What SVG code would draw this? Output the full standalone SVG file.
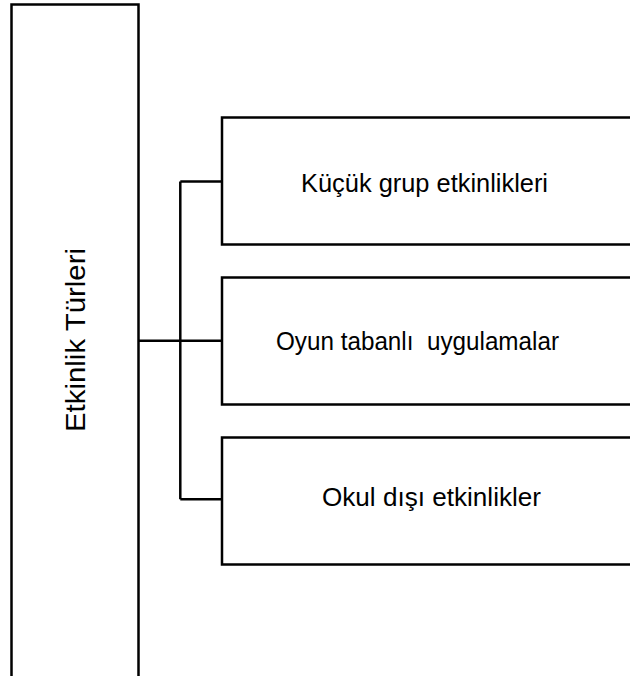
<svg xmlns="http://www.w3.org/2000/svg" width="630" height="676" viewBox="0 0 630 676">
<style>
.box{fill:#fff;stroke:#000;stroke-width:2.5}
.ln{fill:none;stroke:#000;stroke-width:2.5}
.t{font-family:"Liberation Sans",Arial,sans-serif;font-size:25px;fill:#000}
.v{font-size:28px}
</style>
<rect width="630" height="676" fill="#fff"/>
<g id="connectors">
<path class="ln" d="M138.5 340.7 H221.5"/>
<path class="ln" d="M180.3 181.5 V499.3"/>
<path class="ln" d="M180.3 181.5 H221.5"/>
<path class="ln" d="M180.3 499.3 H221.5"/>
</g>
<g id="root">
<path class="box" d="M11.5 690 V4.5 H138.5 V690"/>
<text class="t v" transform="translate(85,340) rotate(-90)" text-anchor="middle" textLength="184" lengthAdjust="spacingAndGlyphs">Etkinlik Türleri</text>
</g>
<g id="n1">
<path class="box" d="M640 117.5 H222 V244.5 H640"/>
<text class="t" x="301" y="192" textLength="247" lengthAdjust="spacingAndGlyphs">Küçük grup etkinlikleri</text>
</g>
<g id="n2">
<path class="box" d="M640 277.5 H222 V404.5 H640"/>
<text class="t" x="276" y="350" xml:space="preserve" textLength="283" lengthAdjust="spacingAndGlyphs">Oyun tabanlı  uygulamalar</text>
</g>
<g id="n3">
<path class="box" d="M640 437.5 H222 V564.5 H640"/>
<text class="t" x="322" y="506" textLength="219" lengthAdjust="spacingAndGlyphs">Okul dışı etkinlikler</text>
</g>
</svg>
